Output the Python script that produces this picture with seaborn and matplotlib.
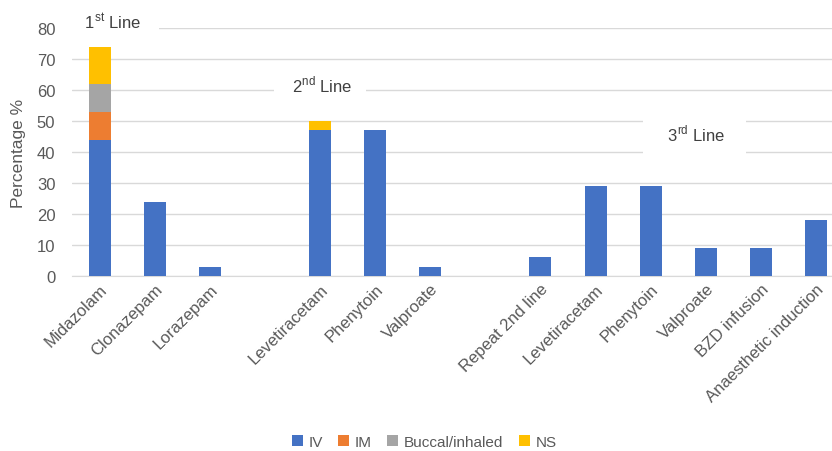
import numpy as np
import pandas as pd
import matplotlib
matplotlib.use("Agg")
import matplotlib.pyplot as plt
import seaborn as sns
from matplotlib.patches import Patch

# ---- data ----
drugs = ["Midazolam", "Clonazepam", "Lorazepam",
         "Levetiracetam", "Phenytoin", "Valproate",
         "Repeat 2nd line", "Levetiracetam", "Phenytoin", "Valproate",
         "BZD infusion", "Anaesthetic induction"]
line_group = [0, 0, 0, 1, 1, 1, 2, 2, 2, 2, 2, 2]
iv = [44, 24, 3, 47, 47, 3, 6, 29, 29, 9, 9, 18]
im = [9, 0, 0, 0, 0, 0, 0, 0, 0, 0, 0, 0]
buccal = [9, 0, 0, 0, 0, 0, 0, 0, 0, 0, 0, 0]
ns = [12, 0, 0, 3, 0, 0, 0, 0, 0, 0, 0, 0]
series_names = ["IV", "IM", "Buccal/inhaled", "NS"]
series_colors = ["#4472C4", "#ED7D31", "#A5A5A5", "#FFC000"]
group_labels = ["1$^{\\mathregular{st}}$ Line", "2$^{\\mathregular{nd}}$ Line", "3$^{\\mathregular{rd}}$ Line"]

# positions: one empty slot between groups
pos = []
counter = {}
for g in line_group:
    counter[g] = counter.get(g, 0)
    start = {0: 0, 1: 4, 2: 8}[g]
    pos.append(start + counter[g])
    counter[g] += 1

cum = np.cumsum(np.array([iv, im, buccal, ns]), axis=0)

sns.set_style("white")
plt.rcParams["font.family"] = ["Liberation Sans", "DejaVu Sans"]

fig = plt.figure(figsize=(8.32, 4.52), dpi=100)
ax = fig.add_axes([72 / 832, 1 - 277 / 452, 1 - 72 / 832, (277 - 29) / 452])

# stacked bars: draw tallest cumulative first
for k in range(3, -1, -1):
    d = pd.DataFrame({"pos": pos, "val": cum[k]})
    sns.barplot(data=d, x="pos", y="val", native_scale=True, color=series_colors[k],
                width=0.4, saturation=1, ax=ax, zorder=3, errorbar=None, linewidth=0)

ax.set_xlim(-0.5, 13.29)
ax.set_ylim(0, 80)
ax.set_yticks(np.arange(0, 81, 10))
ax.yaxis.grid(True, color="#d9d9d9", linewidth=1, zorder=0)
ax.set_axisbelow(True)
for s in ["top", "right", "left"]:
    ax.spines[s].set_visible(False)
ax.spines["bottom"].set_color("#d9d9d9")
ax.tick_params(axis="both", length=0, colors="#595959", labelsize=12)
ax.tick_params(axis="y", pad=12)
ax.set_xticks(pos)
ax.set_xticklabels(drugs, rotation=45, ha="right", rotation_mode="anchor", color="#595959")
ax.set_xlabel("")
ax.set_ylabel("Percentage %", fontsize=12.5, color="#595959", labelpad=8)

# group text boxes
box = dict(boxstyle="square,pad=0.5", facecolor="white", edgecolor="none")
ax.text(0.2, 82.3, "   " + group_labels[0] + "   ", ha="center", va="center", fontsize=12,
        color="#404040", bbox=box, zorder=5)
ax.text(4.0, 62, "  " + group_labels[1] + "  ", ha="center", va="center", fontsize=12,
        color="#404040", bbox=box, zorder=5)
ax.text(10.8, 46, " " + group_labels[2] + " ", ha="center", va="center", fontsize=12,
        color="#404040", bbox=dict(boxstyle="square,pad=1.2", facecolor="white", edgecolor="none"),
        zorder=5)

handles = [Patch(facecolor=c, edgecolor="none", label=n) for n, c in zip(series_names, series_colors)]
fig.legend(handles=handles, loc="center", bbox_to_anchor=(0.51, 1 - 443 / 452),
           ncol=4, frameon=False, handlelength=0.7, handleheight=0.7, handletextpad=0.4,
           columnspacing=1.0, fontsize=11, labelcolor="#595959")

fig.savefig("out.png", dpi=100)
